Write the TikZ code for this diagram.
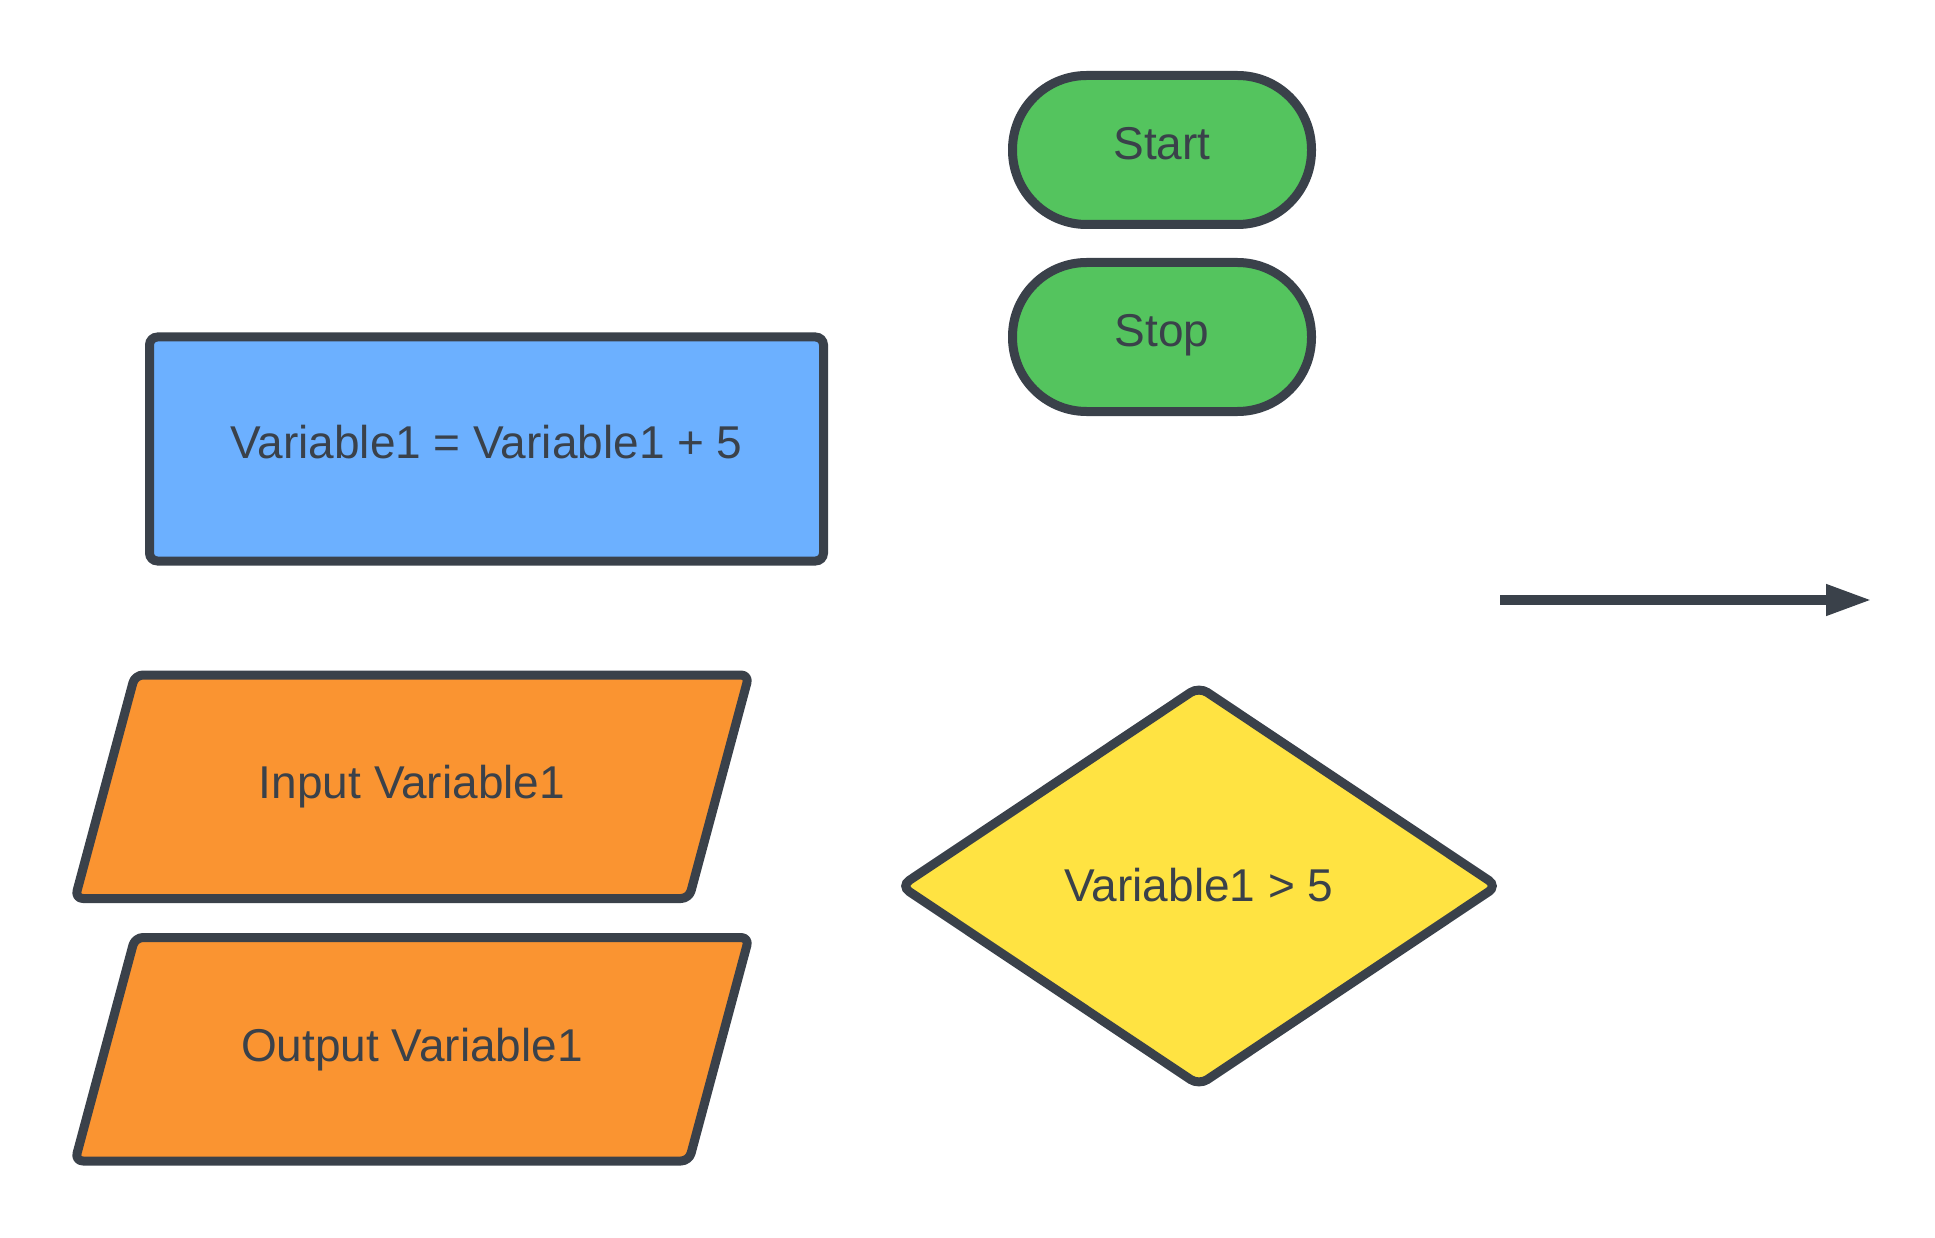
\documentclass[tikz,border=0pt]{standalone}
\usepackage{fontspec}
\setmainfont{Liberation Sans}
\usetikzlibrary{shapes.geometric,arrows.meta}

\definecolor{ink}{HTML}{3A414A}
\definecolor{termgreen}{HTML}{54C45E}
\definecolor{procblue}{HTML}{6CB0FF}
\definecolor{ioorange}{HTML}{FA9431}
\definecolor{decyellow}{HTML}{FFE342}

\tikzset{
  base/.style={draw=ink, line width=9pt, text=ink, inner sep=0pt,
    font=\fontsize{46}{55}\selectfont, text height=33pt, text depth=14pt},
  terminal/.style={base, rectangle, fill=termgreen, rounded corners=74pt,
    minimum width=299pt, minimum height=149pt},
  process/.style={base, rectangle, fill=procblue, rounded corners=8pt,
    minimum width=674pt, minimum height=224pt},
  decision/.style={base, diamond, fill=decyellow, rounded corners=10pt,
    minimum width=600pt, minimum height=402pt, text depth=3pt},
  iobox/.style={draw=ink, line width=9pt, fill=ioorange, rounded corners=8pt,
    line join=round},
  label/.style={text=ink, inner sep=0pt, font=\fontsize{46}{55}\selectfont,
    text height=33pt, text depth=14pt},
  flow/.style={draw=ink, line width=10pt, -{Triangle[length=46pt, width=29pt]}}
}

\begin{document}
\begin{tikzpicture}[x=1pt, y=-1pt]
  % canvas
  \fill[white] (0,0) rectangle (1935,1238);
  \useasboundingbox (0,0) rectangle (1935,1238);

  % terminals
  \node[terminal] (start) at (1162,150) {Start};
  \node[terminal] (stop) at (1162,337) {Stop};

  % process box
  \node[process] (proc) at (486.5,449) {Variable1 = Variable1 + 5};

  % input / output parallelograms
  \draw[iobox] (75,898.5) -- (135,675) -- (749,675) -- (689,898.5) -- cycle;
  \node[label] (input) at (412,789) {Input Variable1};
  \draw[iobox] (75,1161) -- (135,937.5) -- (749,937.5) -- (689,1161) -- cycle;
  \node[label] (output) at (412,1051.5) {Output Variable1};

  % decision
  \node[decision] (dec) at (1199,886) {Variable1 > 5};

  % free-standing connector
  \coordinate (arrowtail) at (1500,600);
  \coordinate (arrowtip) at (1872,600);
  \draw[flow] (arrowtail) -- (arrowtip);
\end{tikzpicture}
\end{document}
